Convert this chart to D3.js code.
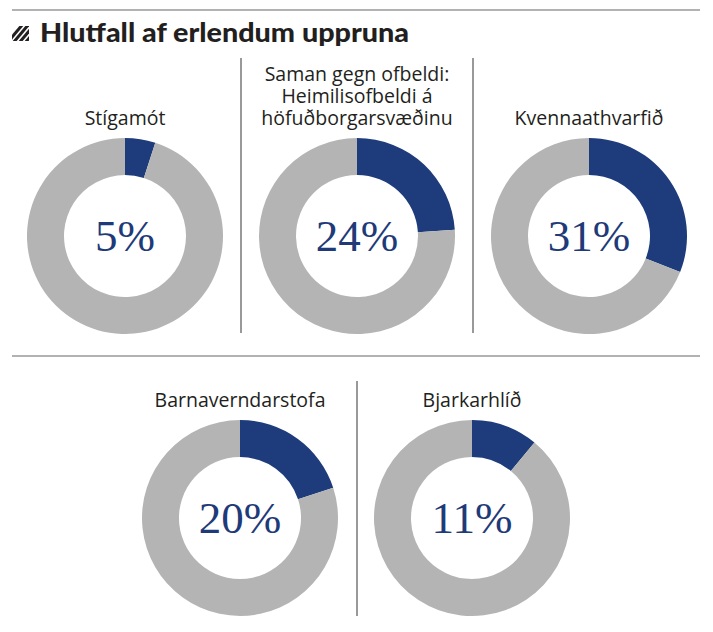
<!DOCTYPE html>
<html>
<head>
<meta charset="utf-8">
<script src="https://d3js.org/d3.v7.min.js"></script>
<style>
  body { margin: 0; background: #fff; }
</style>
</head>
<body>
<div id="chart"></div>
<script>
// data
var names = ["Stígamót", "Saman gegn ofbeldi:|Heimilisofbeldi á|höfuðborgarsvæðinu", "Kvennaathvarfið", "Barnaverndarstofa", "Bjarkarhlíð"];
var shares = [5, 24, 31, 20, 11];
var title = "Hlutfall af erlendum uppruna";

var width = 713, height = 632;
var svg = d3.select("#chart").append("svg")
  .attr("width", width)
  .attr("height", height);

// layout of the five donuts
var centers = [[125, 236], [357, 236], [589, 236], [240, 518], [472, 518]];
var outerR = 98, innerR = 61;

// rules
svg.append("line").attr("x1", 12).attr("x2", 700).attr("y1", 10).attr("y2", 10)
  .attr("stroke", "#666").attr("stroke-width", 1.2);
svg.append("line").attr("x1", 12).attr("x2", 700).attr("y1", 356).attr("y2", 356)
  .attr("stroke", "#666").attr("stroke-width", 1.2);
[[241, 58, 333], [473, 58, 333], [357, 381, 616]].forEach(function(v) {
  svg.append("line").attr("x1", v[0]).attr("x2", v[0]).attr("y1", v[1]).attr("y2", v[2])
    .attr("stroke", "#555").attr("stroke-width", 1.2);
});

// title with hatch icon
var icon = svg.append("g").attr("transform", "translate(12,26)");
icon.append("clipPath").attr("id", "ic").append("rect").attr("width", 17).attr("height", 15);
var ig = icon.append("g").attr("clip-path", "url(#ic)");
[-5, 1, 7, 13].forEach(function(o) {
  ig.append("line").attr("x1", o).attr("y1", 17).attr("x2", o + 16).attr("y2", -2)
    .attr("stroke", "#231f20").attr("stroke-width", 3);
});
svg.append("text")
  .attr("x", 40).attr("y", 42)
  .style("font-family", "Lato")
  .style("font-weight", 900)
  .style("font-size", "26px")
  .attr("textLength", 369)
  .attr("lengthAdjust", "spacingAndGlyphs")
  .attr("fill", "#231f20")
  .text(title);

var pie = d3.pie().sort(null).value(function(d) { return d; });
var arc = d3.arc().innerRadius(innerR).outerRadius(outerR);
var color = d3.scaleOrdinal().domain([0, 1]).range(["#1e3c7b", "#b4b4b4"]);

shares.forEach(function(v, i) {
  var g = svg.append("g").attr("transform", "translate(" + centers[i][0] + "," + centers[i][1] + ")");
  g.selectAll("path")
    .data(pie([v, 100 - v]))
    .enter()
    .append("path")
    .attr("d", arc)
    .attr("fill", function(d, j) { return color(j); });

  g.append("text")
    .attr("text-anchor", "middle")
    .attr("y", 15)
    .style("font-family", "Liberation Serif")
    .style("font-size", "45px")
    .attr("fill", "#1e3a78")
    .text(v + "%");

  // label lines, bottom line sits just above the donut
  var lines = names[i].split("|");
  lines.forEach(function(t, k) {
    g.append("text")
      .attr("text-anchor", "middle")
      .attr("y", -111 - (lines.length - 1 - k) * 22)
      .style("font-family", "Open Sans")
      .style("font-size", "19.5px")
      .attr("fill", "#231f20")
      .text(t);
  });
});
</script>
</body>
</html>
